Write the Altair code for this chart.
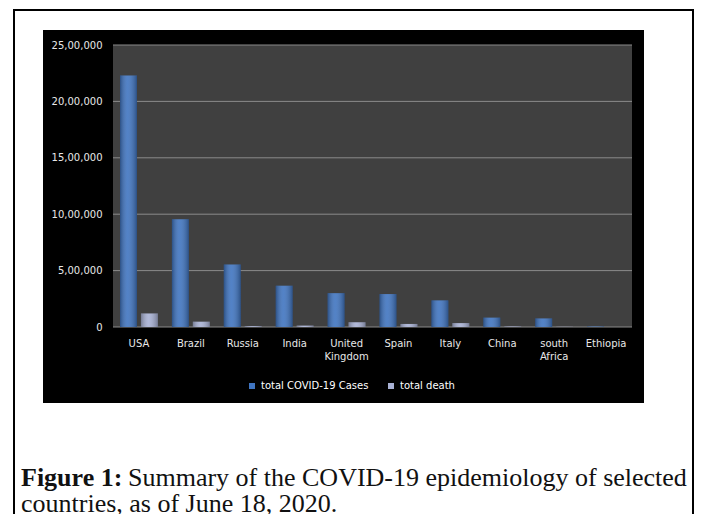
import altair as alt
import pandas as pd

countries = ["USA", "Brazil", "Russia", "India", "United Kingdom", "Spain",
             "Italy", "China", "south Africa", "Ethiopia"]
total_cases = [2230000, 955000, 555000, 366000, 300000, 292000, 236000, 83000, 76000, 4000]
total_deaths = [120000, 47000, 7600, 12200, 42000, 27000, 34500, 4600, 1700, 70]
series_names = ["total COVID-19 Cases", "total death"]
series_colors = ["#3f74c0", "#a8b1d4"]
y_ticks = [0, 500000, 1000000, 1500000, 2000000, 2500000]

caption_bold = "Figure 1:"
caption_line1 = "Summary of the COVID-19 epidemiology of selected"
caption_line2 = "countries, as of June 18, 2020."

rows = []
for c, v1, v2 in zip(countries, total_cases, total_deaths):
    rows.append({"country": c, "series": series_names[0], "value": v1})
    rows.append({"country": c, "series": series_names[1], "value": v2})
df = pd.DataFrame(rows)
grid_df = pd.DataFrame({"value": y_ticks})
dummy = pd.DataFrame({"a": [1]})

W, H = 519, 282
yscale = alt.Scale(domain=[0, 2500000], nice=False)
yaxis = alt.Axis(values=y_ticks, grid=False, ticks=False, domain=False,
                 labelExpr="datum.value == 0 ? '0' : format(datum.value / 100000, 'd') + ',00,000'",
                 labelFont="DejaVu Sans", labelFontSize=10, labelColor="#e8e8e8",
                 labelPadding=11, zindex=1)
yenc = alt.Y("value:Q", scale=yscale, title=None, axis=yaxis)

border = alt.Chart(dummy).mark_rect(fill="white", stroke="black", strokeWidth=2).encode(
    x=alt.value(-99), x2=alt.value(580), y=alt.value(-35), y2=alt.value(520))
panel = alt.Chart(dummy).mark_rect(fill="black").encode(
    x=alt.value(-70), x2=alt.value(531), y=alt.value(-15), y2=alt.value(358))
plotbg = alt.Chart(dummy).mark_rect(fill="#404040").encode(
    x=alt.value(0), x2=alt.value(W), y=alt.value(0), y2=alt.value(H))

grid = alt.Chart(grid_df).mark_rule(color="#8a8a8a", strokeWidth=1).encode(y=yenc)

xenc = alt.X("country:N", sort=countries, title=None,
             scale=alt.Scale(paddingInner=0.27, paddingOuter=0.135),
             axis=alt.Axis(labelAngle=0, labelExpr="split(datum.label, ' ')",
                           labelLineHeight=13, labelPadding=11, ticks=False, domain=False,
                           labelFont="DejaVu Sans", labelFontSize=10, labelColor="#e8e8e8",
                           labelBaseline="top", zindex=1, grid=False))
xoff = alt.XOffset("series:N", sort=series_names, scale=alt.Scale(paddingInner=0.19))

bars = alt.Chart(df).mark_bar().encode(
    x=xenc, xOffset=xoff, y=yenc,
    color=alt.Color("series:N", sort=series_names,
                    scale=alt.Scale(domain=series_names, range=series_colors),
                    legend=alt.Legend(title=None, orient="none", legendX=134, legendY=336,
                                      direction="horizontal", symbolType="square",
                                      symbolSize=36, labelFont="DejaVu Sans",
                                      labelFontSize=10, labelColor="#ffffff",
                                      columnPadding=17, labelOffset=4,
                                      symbolStrokeWidth=0, padding=0)))

shade = alt.Chart(df).mark_bar(fill=alt.LinearGradient(
    gradient="linear", x1=0, x2=1, y1=0, y2=0,
    stops=[alt.GradientStop(color="rgba(0,0,0,0.3)", offset=0),
           alt.GradientStop(color="rgba(255,255,255,0.10)", offset=0.45),
           alt.GradientStop(color="rgba(0,0,0,0.3)", offset=1)])).encode(
    x=xenc, xOffset=xoff, y=yenc)

cap_b = alt.Chart(dummy).mark_text(align="left", baseline="alphabetic", font="Liberation Serif",
                                   fontSize=26, fontWeight="bold", color="#111111").encode(
    x=alt.value(-92), y=alt.value(441), text=alt.value(caption_bold))
cap_1 = alt.Chart(dummy).mark_text(align="left", baseline="alphabetic", font="Liberation Serif",
                                   fontSize=26, color="#111111").encode(
    x=alt.value(15), y=alt.value(441), text=alt.value(caption_line1))
cap_2 = alt.Chart(dummy).mark_text(align="left", baseline="alphabetic", font="Liberation Serif",
                                   fontSize=26, color="#111111").encode(
    x=alt.value(-92), y=alt.value(467), text=alt.value(caption_line2))

chart = alt.layer(border, panel, plotbg, grid, bars, shade, cap_b, cap_1, cap_2).properties(
    width=W, height=H,
    autosize=alt.AutoSizeParams(type="none"),
    padding={"left": 105, "top": 37, "right": 62, "bottom": 187},
).configure(background="white").configure_view(strokeWidth=0)

chart.save("out.html", embed_options={"renderer": "svg", "actions": False})
